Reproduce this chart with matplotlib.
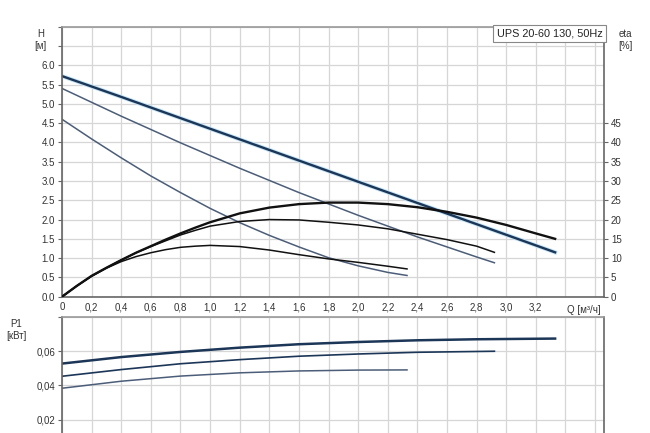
import numpy as np
from matplotlib import pyplot as plt

plt.rcParams['font.family'] = ['Liberation Sans', 'DejaVu Sans']
plt.rcParams['font.size'] = 7

# --- data (UPS 20-60 130, 50Hz), speeds 1..3 ---
q_h3 = [0, 0.4, 0.8, 1.2, 1.6, 2.0, 2.4, 2.8, 3.2, 3.33]
h3 = [5.72, 5.18, 4.63, 4.08, 3.53, 2.98, 2.43, 1.88, 1.33, 1.15]
q_h2 = [0, 0.4, 0.8, 1.2, 1.6, 2.0, 2.4, 2.8, 2.92]
h2 = [5.40, 4.68, 3.99, 3.33, 2.70, 2.11, 1.55, 1.03, 0.88]
q_h1 = [0, 0.2, 0.4, 0.6, 0.8, 1.0, 1.2, 1.4, 1.6, 1.8, 2.0, 2.2, 2.33]
h1 = [4.60, 4.09, 3.60, 3.13, 2.70, 2.29, 1.92, 1.59, 1.29, 1.01, 0.80, 0.63, 0.55]

q_e3 = [0, 0.1, 0.2, 0.3, 0.4, 0.5, 0.6, 0.7, 0.8, 0.9, 1.0, 1.2, 1.4, 1.6, 1.8, 2.0,
        2.2, 2.4, 2.6, 2.8, 3.0, 3.2, 3.33]
eta3 = [0, 2.8, 5.4, 7.5, 9.5, 11.4, 13.1, 14.8, 16.4, 17.9, 19.3, 21.6, 23.1, 24.0, 24.4, 24.4,
        24.0, 23.2, 22.0, 20.5, 18.6, 16.4, 15.0]
q_e2 = [0, 0.1, 0.2, 0.3, 0.4, 0.5, 0.6, 0.7, 0.8, 0.9, 1.0, 1.2, 1.4, 1.6, 1.8, 2.0,
        2.2, 2.4, 2.6, 2.8, 2.92]
eta2 = [0, 2.8, 5.4, 7.5, 9.5, 11.4, 13.0, 14.5, 16.0, 17.2, 18.3, 19.5, 20.0, 19.9, 19.3, 18.6,
        17.6, 16.2, 14.8, 13.1, 11.5]
q_e1 = [0, 0.1, 0.2, 0.3, 0.4, 0.5, 0.6, 0.7, 0.8, 0.9, 1.0, 1.2, 1.4, 1.6, 1.8, 2.0, 2.2, 2.33]
eta1 = [0, 2.8, 5.3, 7.4, 9.1, 10.4, 11.4, 12.2, 12.8, 13.1, 13.3, 13.0, 12.1, 10.9, 9.8, 8.9, 7.9, 7.2]

q_p3 = [0, 0.4, 0.8, 1.2, 1.6, 2.0, 2.4, 2.8, 3.33]
p3 = [0.0528, 0.0566, 0.0596, 0.0621, 0.0641, 0.0654, 0.0664, 0.0670, 0.0674]
q_p2 = [0, 0.4, 0.8, 1.2, 1.6, 2.0, 2.4, 2.92]
p2 = [0.0454, 0.0493, 0.0527, 0.0551, 0.0571, 0.0584, 0.0594, 0.0600]
q_p1 = [0, 0.4, 0.8, 1.2, 1.6, 2.0, 2.33]
p1 = [0.0384, 0.0425, 0.0455, 0.0474, 0.0485, 0.0490, 0.0491]

q_ticks = [0, 0.2, 0.4, 0.6, 0.8, 1.0, 1.2, 1.4, 1.6, 1.8, 2.0, 2.2, 2.4, 2.6, 2.8, 3.0, 3.2]
h_ticks = [0, 0.5, 1.0, 1.5, 2.0, 2.5, 3.0, 3.5, 4.0, 4.5, 5.0, 5.5, 6.0]
eta_ticks = [0, 5, 10, 15, 20, 25, 30, 35, 40, 45]
p_ticks = [0.02, 0.04, 0.06]

grid_c = '#d6d6d6'
spine_c = '#666666'
text_c = '#333333'
dark = '#1c3657'
slate = '#4b5d78'

fig = plt.figure(figsize=(6.5, 4.33), dpi=100)
ax = fig.add_axes([0.0954, 0.3148, 0.8338, 0.6235])
ax_p = fig.add_axes([0.0954, -0.0485, 0.8338, 0.3164])

xlim = (0, 3.66)
x_grid = np.arange(0, 3.61, 0.2)
h_grid = np.arange(0, 7.01, 0.5)

# top panel: head
ax.set_xlim(*xlim)
ax.set_ylim(0, 7)
ax.set_xticks(x_grid)
ax.set_xticklabels([('0' if i == 0 else f'{v:.1f}'.replace('.', ',')) if i < len(q_ticks) else ''
                    for i, v in enumerate(x_grid)])
ax.set_yticks(h_grid)
ax.set_yticklabels([f'{v:.1f}' if i < len(h_ticks) else '' for i, v in enumerate(h_grid)])
ax.grid(True, color=grid_c, lw=0.9)
ax.set_axisbelow(True)
ax.tick_params(axis='y', length=3, width=0.8, color=spine_c, labelcolor=text_c, pad=2)
ax.tick_params(axis='x', length=0, labelcolor=text_c, pad=4)
for s in ax.spines.values():
    s.set_color(spine_c)
    s.set_linewidth(1.2)
ax.spines['top'].set_color('#999999')

ax.plot(q_h3, h3, color='#c4e4f7', lw=3.0)
ax.plot(q_h3, h3, color=dark, lw=1.7)
ax.plot(q_h2, h2, color=slate, lw=1.1)
ax.plot(q_h1, h1, color=slate, lw=1.1)

# efficiency on twin axis
ax_e = ax.twinx()
ax_e.set_ylim(0, 70)
ax_e.set_yticks(eta_ticks)
ax_e.tick_params(length=3, width=0.8, color=spine_c, labelcolor=text_c, pad=2)
for s in ax_e.spines.values():
    s.set_visible(False)
ax_e.plot(q_e3, eta3, color='#111111', lw=1.7)
ax_e.plot(q_e2, eta2, color='#111111', lw=1.1)
ax_e.plot(q_e1, eta1, color='#111111', lw=1.1)

ax.text(-0.04, 6.95, 'H\n[м]', ha='center', va='top', fontsize=7, color=text_c,
        transform=ax.get_yaxis_transform(), linespacing=1.3)
ax.text(1.04, 6.95, 'eta\n[%]', ha='center', va='top', fontsize=7, color=text_c,
        transform=ax.get_yaxis_transform(), linespacing=1.3)
ax.text(3.41, -0.03, 'Q [м³/ч]', ha='left', va='top', fontsize=7, color=text_c,
        transform=ax.get_xaxis_transform())
ax.text(0.997, 0.993, 'UPS 20-60 130, 50Hz', ha='right', va='top', fontsize=7.8,
        color='#222222', transform=ax.transAxes, zorder=5,
        bbox=dict(boxstyle='square,pad=0.35', fc='white', ec='#888888', lw=0.8))

# bottom panel: power
ax_p.set_xlim(*xlim)
ax_p.set_ylim(0, 0.08)
ax_p.set_xticks(x_grid)
ax_p.set_xticklabels([])
ax_p.set_yticks([0.02, 0.04, 0.06, 0.08])
ax_p.set_yticklabels([f'{v:.2f}'.replace('.', ',') if v in p_ticks else ''
                      for v in [0.02, 0.04, 0.06, 0.08]])
ax_p.grid(True, color=grid_c, lw=0.9)
ax_p.set_axisbelow(True)
ax_p.tick_params(axis='y', length=3, width=0.8, color=spine_c, labelcolor=text_c, pad=2)
ax_p.tick_params(axis='x', length=0)
for s in ax_p.spines.values():
    s.set_color(spine_c)
    s.set_linewidth(1.2)
ax_p.spines['top'].set_color('#999999')

ax_p.plot(q_p3, p3, color=dark, lw=1.8)
ax_p.plot(q_p2, p2, color=dark, lw=1.2)
ax_p.plot(q_p1, p1, color=slate, lw=1.1)
ax_p.text(-0.085, 0.079, 'P1\n[кВт]', ha='center', va='top', fontsize=7, color=text_c,
          transform=ax_p.get_yaxis_transform(), linespacing=1.3)

fig.savefig('out.png', dpi=100)
